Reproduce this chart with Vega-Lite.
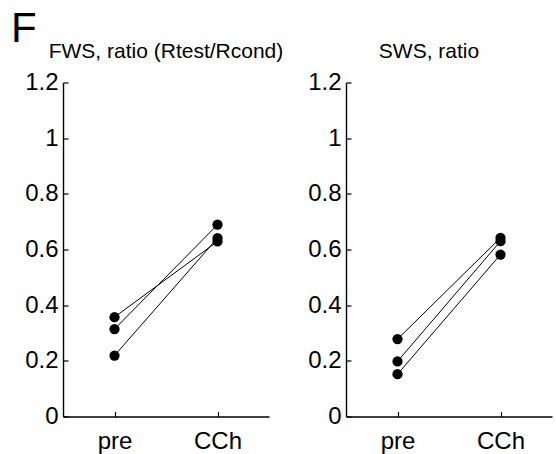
{
  "$schema": "https://vega.github.io/schema/vega-lite/v6.json",
  "padding": {"left": 11, "top": 7.5, "right": 4, "bottom": 1},
  "title": {"text": "F", "anchor": "start", "fontSize": 42, "font": "Liberation Sans", "fontWeight": "normal", "color": "black", "offset": -10, "frame": "group", "dx": -52},
  "data": {"values": [
    {"panel": "FWS", "subject": "a", "cond": "pre", "value": 0.357},
    {"panel": "FWS", "subject": "a", "cond": "CCh", "value": 0.629},
    {"panel": "FWS", "subject": "b", "cond": "pre", "value": 0.314},
    {"panel": "FWS", "subject": "b", "cond": "CCh", "value": 0.689},
    {"panel": "FWS", "subject": "c", "cond": "pre", "value": 0.219},
    {"panel": "FWS", "subject": "c", "cond": "CCh", "value": 0.641},
    {"panel": "SWS", "subject": "a", "cond": "pre", "value": 0.278},
    {"panel": "SWS", "subject": "a", "cond": "CCh", "value": 0.642},
    {"panel": "SWS", "subject": "b", "cond": "pre", "value": 0.198},
    {"panel": "SWS", "subject": "b", "cond": "CCh", "value": 0.63},
    {"panel": "SWS", "subject": "c", "cond": "pre", "value": 0.152},
    {"panel": "SWS", "subject": "c", "cond": "CCh", "value": 0.582}
  ]},
  "bounds": "flush",
  "spacing": 77,
  "hconcat": [
    {
      "width": 206, "height": 334,
      "title": {"text": "FWS, ratio (Rtest/Rcond)", "anchor": "middle", "offset": 9, "frame": "group"},
      "transform": [{"filter": "datum.panel == 'FWS'"}],
      "encoding": {
        "x": {"field": "cond", "type": "ordinal", "sort": ["pre", "CCh"], "scale": {"type": "point", "padding": 0.5}, "axis": {"title": null, "labelAngle": 0, "labelPadding": 18}},
        "y": {"field": "value", "type": "quantitative", "scale": {"domain": [0, 1.2], "nice": false}, "axis": {"title": null, "values": [0, 0.2, 0.4, 0.6, 0.8, 1, 1.2], "format": "~g", "labelPadding": 10}}
      },
      "layer": [
        {"mark": {"type": "line", "color": "black", "strokeWidth": 1}, "encoding": {"detail": {"field": "subject"}}},
        {"mark": {"type": "circle", "color": "black", "size": 105, "opacity": 1}}
      ]
    },
    {
      "width": 206, "height": 334,
      "title": {"text": "SWS, ratio", "anchor": "middle", "offset": 9, "frame": "group", "dx": -20},
      "transform": [{"filter": "datum.panel == 'SWS'"}],
      "encoding": {
        "x": {"field": "cond", "type": "ordinal", "sort": ["pre", "CCh"], "scale": {"type": "point", "padding": 0.5}, "axis": {"title": null, "labelAngle": 0, "labelPadding": 18}},
        "y": {"field": "value", "type": "quantitative", "scale": {"domain": [0, 1.2], "nice": false}, "axis": {"title": null, "values": [0, 0.2, 0.4, 0.6, 0.8, 1, 1.2], "format": "~g", "labelPadding": 10}}
      },
      "layer": [
        {"mark": {"type": "line", "color": "black", "strokeWidth": 1}, "encoding": {"detail": {"field": "subject"}}},
        {"mark": {"type": "circle", "color": "black", "size": 105, "opacity": 1}}
      ]
    }
  ],
  "config": {
    "font": "Liberation Sans",
    "view": {"stroke": null},
    "axis": {"domainColor": "black", "tickColor": "black", "labelColor": "black", "labelFontSize": 24, "labelFont": "Liberation Sans", "grid": false, "tickSize": -5, "domainWidth": 1.4, "tickWidth": 1.2},
    "title": {"font": "Liberation Sans", "fontSize": 21, "fontWeight": "normal", "color": "black"}
  }
}
